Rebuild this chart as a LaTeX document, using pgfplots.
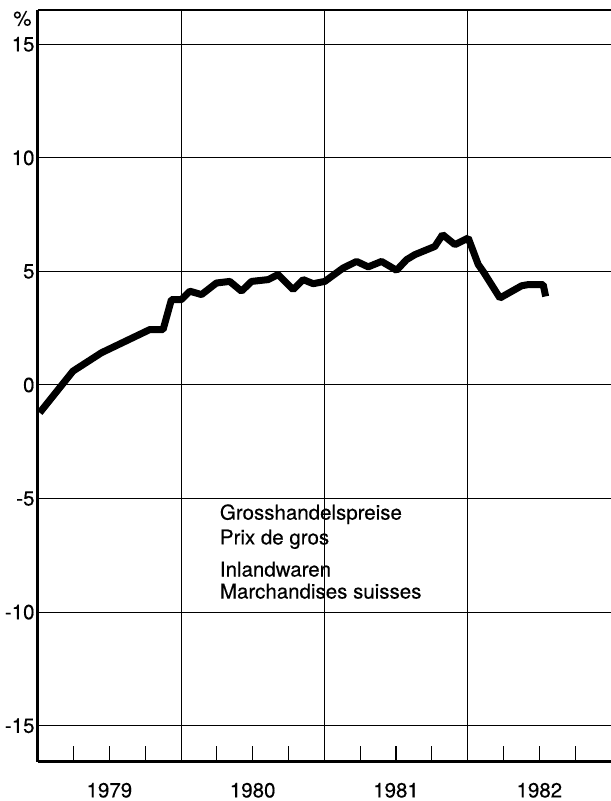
\documentclass[border=0pt]{standalone}
\usepackage{fontspec}
\setmainfont{TeX Gyre Heros}[FakeBold=0.35]
\usepackage{pgfplots}
\pgfplotsset{compat=1.18}
\newcommand\tf{\fontsize{20.5}{24}\selectfont}
\newcommand\lf{\fontsize{20.5}{24}\selectfont}
\begin{document}
\begin{tikzpicture}
\begin{axis}[
  name=ax,
  scale only axis, width=573.3pt, height=751.7pt,
  xmin=1979, xmax=1983, ymin=-16.585, ymax=16.51,
  axis x line*=box, axis y line*=left,
  axis line style={line width=2.5pt, black},
  xtick={1979.5,1980.5,1981.5,1982.5},
  xticklabels={1979,1980,1981,1982},
  xtick pos=left, xticklabel pos=left,
  major x tick style={draw=none},
  minor xtick={1979.25,1979.5,1979.75,1980.25,1980.5,1980.75,1981.25,1981.5,1981.75,1982.25,1982.5,1982.75},
  minor x tick style={black, line width=1.1pt},
  minor tick length=16pt,
  extra x ticks={1980,1981,1982},
  extra x tick labels={},
  extra x tick style={grid=major, major grid style={black, line width=1pt}},
  ytick={-15,-10,-5,0,5,10,15},
  yticklabels={-15,-10,-5,0,5,10,15},
  ytick style={draw=none},
  ymajorgrids,
  major grid style={black, line width=1pt},
  xticklabel style={font=\tf, inner sep=0pt, yshift=-21pt},
  yticklabel style={font=\tf, inner sep=0pt, xshift=-3pt},
  clip=true,
]
\addplot[black, line width=7pt, line join=bevel] coordinates {
(1979.014,-1.22) (1979.246,0.61) (1979.445,1.42) (1979.782,2.44) (1979.875,2.44)
(1979.933,3.76) (1980.003,3.76) (1980.061,4.13) (1980.143,3.98) (1980.247,4.49)
(1980.340,4.56) (1980.422,4.13) (1980.492,4.56) (1980.608,4.64) (1980.677,4.86)
(1980.782,4.20) (1980.852,4.64) (1980.922,4.46) (1981.003,4.56) (1981.131,5.15)
(1981.225,5.44) (1981.306,5.20) (1981.399,5.44) (1981.504,5.05) (1981.574,5.52)
(1981.632,5.74) (1981.771,6.10) (1981.825,6.62) (1981.911,6.18) (1982.004,6.47)
(1982.074,5.30) (1982.108,5.00) (1982.225,3.83) (1982.377,4.37) (1982.423,4.42)
(1982.527,4.42) (1982.544,3.90)
};
\node[anchor=west, inner sep=0pt, font=\lf] at (axis cs:1980.27,-5.69) {Grosshandelspreise};
\node[anchor=west, inner sep=0pt, font=\lf] at (axis cs:1980.27,-6.79) {Prix de gros};
\node[anchor=west, inner sep=0pt, font=\lf] at (axis cs:1980.27,-8.11) {Inlandwaren};
\node[anchor=west, inner sep=0pt, font=\lf] at (axis cs:1980.27,-9.08) {Marchandises suisses};
\end{axis}
\node[anchor=east, inner sep=0pt, font=\tf] at ([xshift=-6pt, yshift=-8.5pt]ax.north west) {\%};
\pgfresetboundingbox
\path[use as bounding box] ([xshift=-37.7pt,yshift=-39.3pt]ax.south west) rectangle ([yshift=10pt]ax.north east);
\end{tikzpicture}
\end{document}
